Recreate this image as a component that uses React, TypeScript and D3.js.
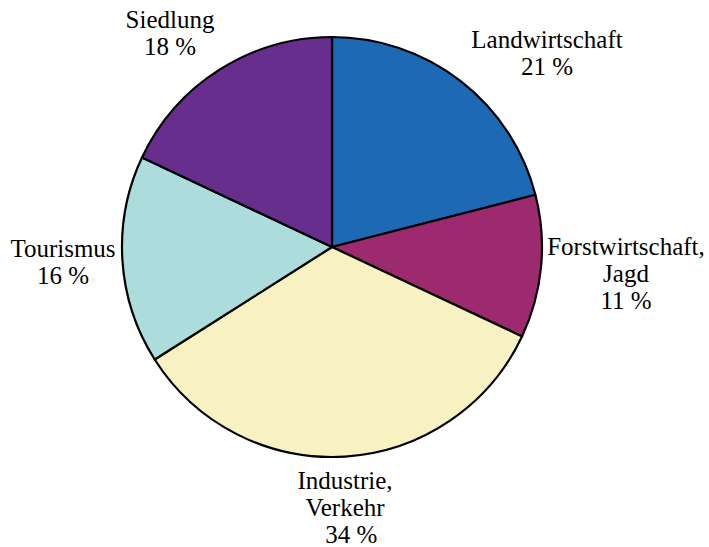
import React from "react";
import * as d3 from "d3";

const categories = ["Landwirtschaft", "Forstwirtschaft, Jagd", "Industrie, Verkehr", "Tourismus", "Siedlung"];
const values = [21, 11, 34, 16, 18];
const labelLines = [
  ["Landwirtschaft", "21 %"],
  ["Forstwirtschaft,", "Jagd", "11 %"],
  ["Industrie,", "Verkehr", "  34 %"],
  ["Tourismus", "16 %"],
  ["Siedlung", "18 %"],
];
const colors = ["#1d69b4", "#9d2a6f", "#f8f2c2", "#acdcdb", "#672e8e"];
const labelPos: [number, number][] = [
  [547, 48],
  [626, 255],
  [345, 489],
  [63, 257],
  [170, 28],
];

export default function App() {
  const W = 709, H = 547;
  const cx = 332, cy = 247, r = 210;
  const pie = d3.pie<number>().sort(null).value((d) => d)(values);
  const arc = d3.arc<d3.PieArcDatum<number>>().innerRadius(0).outerRadius(r);
  return (
    <svg width={W} height={H} style={{ position: "absolute", left: 0, top: 0, background: "#fff" }}>
      <g transform={`translate(${cx},${cy})`}>
        {pie.map((p, i) => (
          <path key={categories[i]} d={arc(p) || ""} fill={colors[i]} stroke="#000" strokeWidth={2.2} strokeLinejoin="round" />
        ))}
      </g>
      {labelLines.map((lines, i) => (
        <text key={i} x={labelPos[i][0]} y={labelPos[i][1]} textAnchor="middle"
          fontSize={25} fill="#000"
          style={{ whiteSpace: "pre", fontFamily: '"Liberation Serif", "Times New Roman", Times, serif' }}>
          {lines.map((l, j) => (
            <tspan key={j} x={labelPos[i][0]} dy={j === 0 ? 0 : 27}>{l}</tspan>
          ))}
        </text>
      ))}
    </svg>
  );
}
